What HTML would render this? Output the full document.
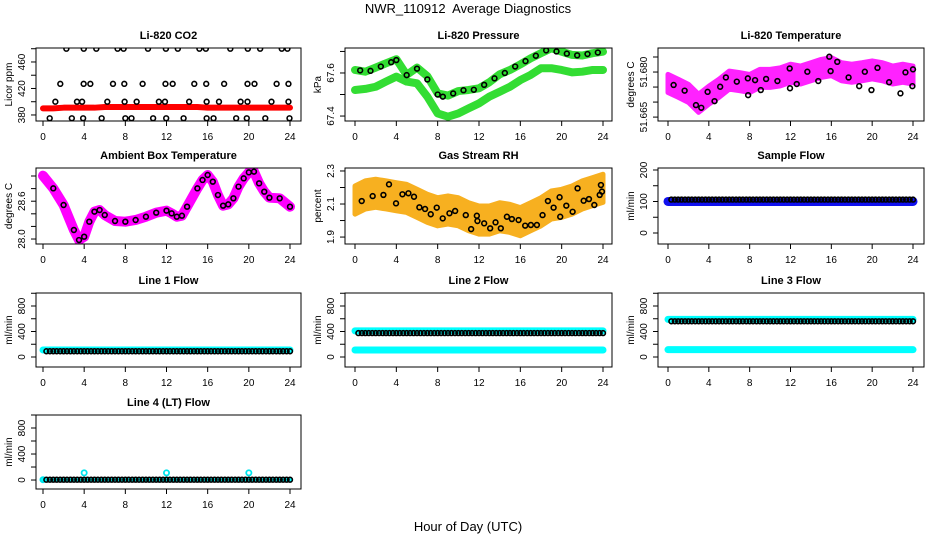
<!DOCTYPE html>
<html><head><meta charset="utf-8"><style>
html,body{margin:0;padding:0;background:#fff}
svg{display:block;font-family:"Liberation Sans",sans-serif}
</style></head><body>
<svg id="chart" width="936" height="540" viewBox="0 0 936 540" xmlns="http://www.w3.org/2000/svg">
<rect width="936" height="540" fill="#fff"/>
<text x="468" y="13" font-size="13" text-anchor="middle">NWR_110912&#160; Average Diagnostics</text>
<text x="468" y="531" font-size="13" text-anchor="middle">Hour of Day (UTC)</text>
</svg>
<script>
// ---------- data ----------
const xTicks=[0,4,8,12,16,20,24];
// CO2
const co2Hours=[2.27,3.96,5.18,7.25,7.83,10.2,11.94,13.1,15.2,15.82,18.2,19.9,21.1,23.2,23.75,
 1.68,3.95,4.6,6.8,7.9,9.68,11.9,12.6,14.7,15.86,17.6,19.87,20.55,22.7,23.85,
 1.2,3.3,3.8,6.25,7.93,9.1,11.26,11.85,14.2,15.9,17.1,19.2,19.87,22.2,23.85,
 0.65,2.8,3.9,5.7,8.0,8.6,10.7,11.97,13.66,15.9,16.57,18.77,19.8,21.6,23.95];
const co2Values=[480,480,480,480,480,480,480,480,480,480,480,480,480,480,480,
 427,427,427,427,427,427,427,427,427,427,427,427,427,427,427,
 400,400,400,400,400,400,400,400,400,400,400,400,400,400,400,
 375,375,375,375,375,375,375,375,375,375,375,375,375,375,375];
const hourly=[0,1,2,3,4,5,6,7,8,9,10,11,12,13,14,15,16,17,18,19,20,21,22,23,24];
const co2Red=[390,390,391,391,391,391,392,392,392,392,392,392,392,392,392,392,391,391,391,391,391,391,391,391,391];
// Pressure
const pressUpper=[67.614,67.606,67.625,67.645,67.664,67.591,67.625,67.585,67.505,67.495,67.516,67.521,67.529,67.557,67.594,67.614,67.640,67.668,67.692,67.715,67.699,67.684,67.681,67.692,67.699];
const pressLower=[67.521,67.526,67.536,67.560,67.583,67.560,67.552,67.490,67.412,67.397,67.412,67.436,67.459,67.490,67.513,67.536,67.567,67.591,67.622,67.622,67.614,67.603,67.606,67.614,67.614];
const pressBlackHours=[0.5,1.5,2.5,3.5,4,5,6,7,8,8.5,9.5,10.5,11.5,12.5,13.5,14.5,15.5,16.5,17.5,18.5,19.5,20.5,21.5,22.5,23.5];
const pressBlack=[67.612,67.610,67.630,67.650,67.660,67.590,67.620,67.570,67.500,67.490,67.505,67.520,67.522,67.545,67.575,67.600,67.630,67.655,67.680,67.705,67.700,67.690,67.682,67.688,67.695];
// Li-820 temperature
const tempCenter=[51.6762,51.6746,51.6729,51.6696,51.6723,51.6746,51.6773,51.6768,51.6762,51.6779,51.6779,51.6784,51.6796,51.6790,51.6801,51.6812,51.6818,51.6801,51.6796,51.6801,51.6807,51.6801,51.6790,51.6796,51.6790];
const tempHalf=0.0030;
const tempBlackHours=[0.55,1.63,2.74,3.26,3.88,4.56,5.11,5.67,6.74,7.82,7.85,8.53,9.09,9.61,10.72,11.92,11.95,12.61,13.65,14.72,15.8,15.93,16.58,17.69,18.73,19.28,19.93,20.52,21.66,22.77,23.26,23.94,24.0];
const tempBlack=[51.6757,51.6738,51.6690,51.6681,51.6734,51.6703,51.6751,51.6782,51.6768,51.6779,51.6723,51.6773,51.6740,51.6777,51.6770,51.6812,51.6746,51.6760,51.6801,51.6770,51.6851,51.6803,51.6834,51.6782,51.6753,51.6801,51.6740,51.6814,51.6766,51.6729,51.6799,51.6753,51.6809];
// Ambient box temperature
const boxHours=[0,1,2,3,3.5,4,4.5,5,5.5,6,7,8,9,10,11,12,12.5,13,13.5,14,15,15.5,16,16.5,17,17.5,18,18.5,19,19.5,20,20.5,21,21.5,22,23,24];
const boxTemp=[29.005,28.804,28.540,28.143,27.984,28.037,28.275,28.434,28.460,28.381,28.286,28.275,28.302,28.354,28.418,28.450,28.407,28.354,28.370,28.513,28.804,28.937,29.016,28.910,28.698,28.529,28.550,28.646,28.831,28.963,29.058,29.069,28.884,28.751,28.656,28.646,28.513];
// Gas stream RH
const rhCenter=[2.124,2.155,2.165,2.155,2.144,2.134,2.104,2.074,2.053,2.064,2.053,2.023,2.003,2.003,2.023,2.013,1.993,2.023,2.053,2.094,2.104,2.124,2.155,2.175,2.195];
const rhHalf=0.085;
const rhBlackHours=[0.65,1.71,2.75,3.29,3.97,4.59,5.17,5.71,6.23,6.78,7.33,7.91,8.49,9.14,9.69,10.72,11.24,11.79,11.85,12.5,13.08,13.6,14.11,14.7,15.18,15.83,16.47,17.02,17.6,18.15,18.67,19.22,19.8,19.86,20.45,21.06,21.54,22.13,22.64,23.16,23.68,23.8,23.9];
const rhBlack=[2.118,2.148,2.155,2.219,2.104,2.159,2.165,2.144,2.080,2.070,2.038,2.078,2.013,2.044,2.058,2.033,1.948,2.029,1.997,1.983,1.953,1.989,1.953,2.023,2.009,2.003,1.969,1.973,1.973,2.033,2.118,2.078,2.141,2.023,2.090,2.053,2.195,2.120,2.130,2.094,2.155,2.215,2.175];
// Flows (hourly)
const sampleBlue=[100,100,100,100,100,100,100,100,100,100,100,100,100,100,100,100,100,100,100,100,100,100,100,100,100];
const sampleBlack=[106,106,106,106,106,106,106,106,106,106,106,106,106,106,106,106,106,106,106,106,106,106,106,106,106];
const line1Cyan=[110,110,110,110,110,110,110,110,110,110,110,110,110,110,110,110,110,110,110,110,110,110,110,110,110];
const line1Black=[90,90,90,90,90,90,90,90,90,90,90,90,90,90,90,90,90,90,90,90,90,90,90,90,90];
const line2CyanHi=[410,410,410,410,410,410,410,410,410,410,410,410,410,410,410,410,410,410,410,410,410,410,410,410,410];
const line2CyanLo=[110,110,110,110,110,110,110,110,110,110,110,110,110,110,110,110,110,110,110,110,110,110,110,110,110];
const line2Black=[375,375,375,375,375,375,375,375,375,375,375,375,375,375,375,375,375,375,375,375,375,375,375,375,375];
const line3CyanHi=[590,590,590,590,590,590,590,590,590,590,590,590,590,590,590,590,590,590,590,590,590,590,590,590,590];
const line3CyanLo=[115,115,115,115,115,115,115,115,115,115,115,115,115,115,115,115,115,115,115,115,115,115,115,115,115];
const line3Black=[560,560,560,560,560,560,560,560,560,560,560,560,560,560,560,560,560,560,560,560,560,560,560,560,560];
const line4Black=[5,5,5,5,5,5,5,5,5,5,5,5,5,5,5,5,5,5,5,5,5,5,5,5,5];
const line4SpikeHours=[0,4,12,20];
const line4Spike=[5,110,110,110];

// ---------- layout ----------
const NS='http://www.w3.org/2000/svg';
const svg=document.getElementById('chart');
const cols=[{l:36,r:301,x0:43,x24:290},{l:345,r:612,x0:355,x24:603},{l:658,r:924,x0:668,x24:913}];
const rows=[{t:48,b:121},{t:168,b:244},{t:293,b:367},{t:415,b:489}];
function mk(tag,attrs,parent){const e=document.createElementNS(NS,tag);for(const k in attrs)e.setAttribute(k,attrs[k]);(parent||svg).appendChild(e);return e;}

function panel(ci,ri,o){
  const c=cols[ci],r=rows[ri];
  const g=mk('g',{});
  
  
  const sx=h=>c.x0+(c.x24-c.x0)*h/24;
  const sy=v=>r.t+(o.top-v)/(o.top-o.bot)*(r.b-r.t);
  const t=mk('text',{x:(c.l+c.r)/2,y:r.t-9,'font-size':11,'font-weight':'bold','text-anchor':'middle'},g);
  t.textContent=o.title;
  
  
  const yt=mk('text',{transform:`translate(${c.l-24},${(r.t+r.b)/2}) rotate(-90)`,'font-size':10,'text-anchor':'middle'},g);
  yt.textContent=o.ytitle;
  
  
  const ax=mk('g',{stroke:'#000','stroke-width':1},g);
  
  
  xTicks.forEach(h=>{
    mk('line',{x1:sx(h),x2:sx(h),y1:r.b,y2:r.b+5},ax);
    const tl=mk('text',{x:sx(h),y:r.b+19,'font-size':10,'text-anchor':'middle',stroke:'none'},g);
    tl.textContent=h;
    
    
  });
  o.yticks.forEach(v=>{mk('line',{x1:c.l-5,x2:c.l,y1:sy(v),y2:sy(v)},ax);});
  o.ylabels.forEach((v,i)=>{
    const tl=mk('text',{transform:`translate(${c.l-11},${sy(v)}) rotate(-90)`,'font-size':10,'text-anchor':'middle'},g);
    tl.textContent=o.ylabelText?o.ylabelText[i]:v;
    
    
  });
  const clip='clip'+ci+ri;
  const cp=mk('clipPath',{id:clip},g);mk('rect',{x:c.l,y:r.t,width:c.r-c.l,height:r.b-r.t},cp);
  const plot=mk('g',{'clip-path':`url(#${clip})`},g);
  const box=mk('rect',{x:c.l,y:r.t,width:c.r-c.l,height:r.b-r.t,fill:'none',stroke:'#000','stroke-width':1},g);
  
  
  return {sx,sy,plot,g};
}
function pts(P,hs,vs,color,name,r,sw){
  const g=mk('g',{fill:'none',stroke:color,'stroke-width':sw||1.6},P.plot);
  
  
  hs.forEach((h,i)=>{
    const c=mk('circle',{cx:P.sx(h),cy:P.sy(vs[i]),r:r||2.4},g);
    
    
  });
}
function band(P,hs,vs,color,width,name){
  const p=mk('polyline',{points:hs.map((h,i)=>P.sx(h)+','+P.sy(vs[i])).join(' '),fill:'none',stroke:color,'stroke-width':width,'stroke-linejoin':'round','stroke-linecap':'round'},P.plot);
  
  
}
function area(P,hs,vs,half,color,name){
  const up=hs.map((h,i)=>P.sx(h)+','+P.sy(vs[i]+half));
  const dn=hs.map((h,i)=>P.sx(h)+','+P.sy(vs[i]-half)).reverse();
  const p=mk('polygon',{points:up.concat(dn).join(' '),fill:color,stroke:color,'stroke-width':5,'stroke-linejoin':'round'},P.plot);
  
  
}
function stepPts(P,vals,color,name){
  const hs=[],vs=[];
  vals.forEach((v,i)=>{if(i===0)return;[-0.67,-0.33,0].forEach(d=>{hs.push(i+d);vs.push(v);});});
  pts(P,hs,vs,color,name);
}

// CO2
let P=panel(0,0,{name:'co2-panel',title:'Li-820 CO2',ytitle:'Licor ppm',top:481.1,bot:370.9,yticks:[380,400,420,440,460,480],ylabels:[380,420,460]});
band(P,hourly,co2Red,'#ff0000',6,'co2-red-series');
pts(P,co2Hours,co2Values,'#000','co2-black-series');
// Pressure
P=panel(1,0,{name:'pressure-panel',title:'Li-820 Pressure',ytitle:'kPa',top:67.716,bot:67.377,yticks:[67.4,67.5,67.6,67.7],ylabels:[67.4,67.6]});
band(P,hourly,pressUpper,'#33dd33',8,'pressure-upper-band');
band(P,hourly,pressLower,'#33dd33',8,'pressure-lower-band');
pts(P,pressBlackHours,pressBlack,'#000','pressure-black-series');
// Temperature
P=panel(2,0,{name:'li820-temp-panel',title:'Li-820 Temperature',ytitle:'degrees C',top:51.688,bot:51.6637,yticks:[51.665,51.67,51.675,51.68,51.685],ylabels:[51.665,51.68],ylabelText:['51.665','51.680']});
area(P,hourly,tempCenter,tempHalf,'#ff22ff','temp-magenta-cloud');
pts(P,tempBlackHours,tempBlack,'#000','temp-black-series');
// Ambient
P=panel(0,1,{name:'ambient-panel',title:'Ambient Box Temperature',ytitle:'degrees C',top:29.127,bot:27.921,yticks:[28.0,28.2,28.4,28.6,28.8,29.0],ylabels:[28.0,28.6],ylabelText:['28.0','28.6']});
band(P,boxHours,boxTemp,'#ff00ff',10,'ambient-magenta-series');
pts(P,boxHours.slice(1),boxTemp.slice(1),'#000','ambient-black-series');
// RH
P=panel(1,1,{name:'rh-panel',title:'Gas Stream RH',ytitle:'percent',top:2.318,bot:1.858,yticks:[1.9,2.0,2.1,2.2,2.3],ylabels:[1.9,2.1,2.3]});
area(P,hourly,rhCenter,rhHalf,'#f7b020','rh-orange-cloud');
pts(P,rhBlackHours,rhBlack,'#000','rh-black-series');
// Sample flow
P=panel(2,1,{name:'sample-flow-panel',title:'Sample Flow',ytitle:'ml/min',top:206.3,bot:-34.9,yticks:[0,50,100,150,200],ylabels:[0,100,200]});
band(P,hourly,sampleBlue,'#1010ee',9,'sample-blue-series');
stepPts(P,sampleBlack,'#000','sample-black-series');
// Line flows
const flowT=[0,200,400,600,800,1000],flowL=[0,400,800];
P=panel(0,2,{name:'line1-panel',title:'Line 1 Flow',ytitle:'ml/min',top:1004,bot:-157,yticks:flowT,ylabels:flowL});
band(P,hourly,line1Cyan,'#00ffff',7,'line1-cyan-series');
stepPts(P,line1Black,'#000','line1-black-series');
P=panel(1,2,{name:'line2-panel',title:'Line 2 Flow',ytitle:'ml/min',top:1004,bot:-157,yticks:flowT,ylabels:flowL});
band(P,hourly,line2CyanHi,'#00ffff',7,'line2-cyan-upper');
band(P,hourly,line2CyanLo,'#00ffff',7,'line2-cyan-lower');
stepPts(P,line2Black,'#000','line2-black-series');
P=panel(2,2,{name:'line3-panel',title:'Line 3 Flow',ytitle:'ml/min',top:1004,bot:-157,yticks:flowT,ylabels:flowL});
band(P,hourly,line3CyanHi,'#00ffff',7,'line3-cyan-upper');
band(P,hourly,line3CyanLo,'#00ffff',7,'line3-cyan-lower');
stepPts(P,line3Black,'#000','line3-black-series');
P=panel(0,3,{name:'line4-panel',title:'Line 4 (LT) Flow',ytitle:'ml/min',top:1000,bot:-138,yticks:flowT,ylabels:flowL});
band(P,hourly,line4Black,'#00ffff',4,'line4-cyan-series');
pts(P,line4SpikeHours,line4Spike,'#00e5ee','line4-cyan-points',2.6,1.8);
stepPts(P,line4Black,'#000','line4-black-series');
</script>
</body></html>
